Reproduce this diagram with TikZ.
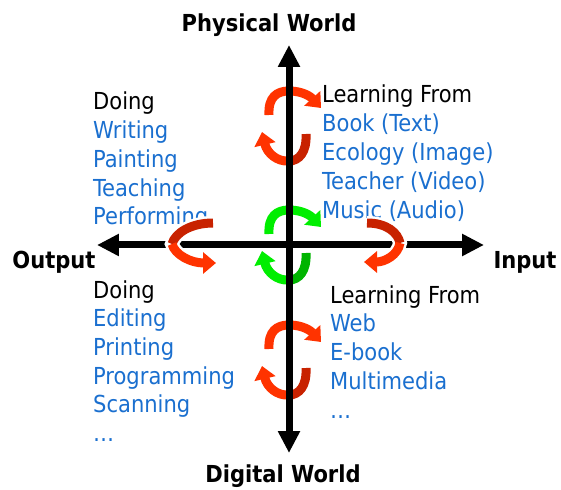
\documentclass[tikz,border=0pt]{standalone}
\usepackage{fontspec}
\setmainfont{DejaVu Sans Condensed}
\usetikzlibrary{arrows.meta}
\definecolor{Ink}{HTML}{000000}
\definecolor{Sky}{HTML}{1A6FCF}
\definecolor{Flame}{HTML}{FF3300}
\definecolor{Ember}{HTML}{C82200}
\definecolor{Leaf}{HTML}{00EE00}
\definecolor{Moss}{HTML}{00B400}

\begin{document}
\begin{tikzpicture}[x=1pt,y=1pt,
  every node/.style={font=\fontsize{23.4}{28}\selectfont,text=Ink,inner sep=0pt},
  head/.style={anchor=base west},
  item/.style={anchor=base west,text=Sky},
  world/.style={anchor=base,font=\fontsize{23.4}{28}\selectfont\bfseries},
  axis/.style={line width=7pt,{Triangle[width=21pt,length=22pt]}-{Triangle[width=21pt,length=22pt]}},
  ring/.style={line width=9pt},
  halo/.style={white,line width=14pt},
  tip/.style={-{Triangle[width=21pt,length=13pt]}}]
\useasboundingbox (-289,-244) rectangle (272,245);

% the four corners
\node[head] (doPhys) at (-196,135) {Doing};
\foreach \t [count=\i] in {Writing,Painting,Teaching,Performing}
  \node[item] (doPhys\i) at (-196,135-28.7*\i) {\t};
\node[head] (learnPhys) at (33,142) {Learning From};
\foreach \t [count=\i] in {Book (Text),Ecology (Image),Teacher (Video),Music (Audio)}
  \node[item] (learnPhys\i) at (33,142-28.9*\i) {\t};
\node[head] (doDigi) at (-196,-53) {Doing};
\foreach \t [count=\i] in {Editing,Printing,Programming,Scanning,…}
  \node[item] (doDigi\i) at (-196,-53-28.7*\i) {\t};
\node[head] (learnDigi) at (41,-58) {Learning From};
\foreach \t [count=\i] in {Web,E-book,Multimedia,…}
  \node[item] (learnDigi\i) at (41,-58-28.8*\i) {\t};

% turning rings on the vertical axis
\foreach \cy/\lit/\dim in {119/Flame/Ember,0/Leaf/Moss,-115/Flame/Ember}{
  \draw[ring,\lit,tip] (-20,\cy+11) .. controls (-21,\cy+29) and (-12,\cy+35) .. (0,\cy+35)
    .. controls (14,\cy+35) and (22,\cy+29) .. (32,\cy+18);
  \draw[ring,\dim] (17,\cy-8) .. controls (18,\cy-26) and (10,\cy-35) .. (0,\cy-35);
  \draw[ring,\lit,tip] (0,\cy-35) .. controls (-12,\cy-36) and (-22,\cy-27) .. (-27,\cy-6);
}

% axes
\coordinate (top) at (0,200);
\coordinate (bottom) at (0,-208);
\coordinate (left) at (-192,0);
\coordinate (right) at (195,0);
\draw[axis] (bottom) -- (top);
\draw[axis] (left) -- (right);

% turning rings on the horizontal axis
\draw[halo] (-76,22) .. controls (-98,22) and (-114,12) .. (-117,1)
  .. controls (-114,-10) and (-98,-18) .. (-86,-18);
\draw[ring,Ember] (-76,22) .. controls (-98,22) and (-114,12) .. (-117,1);
\draw[ring,Flame,tip] (-117,1) .. controls (-114,-10) and (-98,-18) .. (-73,-18);
\draw[halo] (78,22) .. controls (98,22) and (109,12) .. (111,2)
  .. controls (109,-10) and (96,-17) .. (88,-17);
\draw[ring,Ember] (78,22) .. controls (98,22) and (109,12) .. (111,2);
\draw[ring,Flame,tip] (111,2) .. controls (109,-10) and (96,-17) .. (75,-17);

% axis labels
\node[world] (phys) at (-20,213) {Physical World};
\node[world] (digi) at (-6,-237) {Digital World};
\node[world] (out) at (-235,-24) {Output};
\node[world] (in) at (236,-24) {Input};
\end{tikzpicture}
\end{document}
